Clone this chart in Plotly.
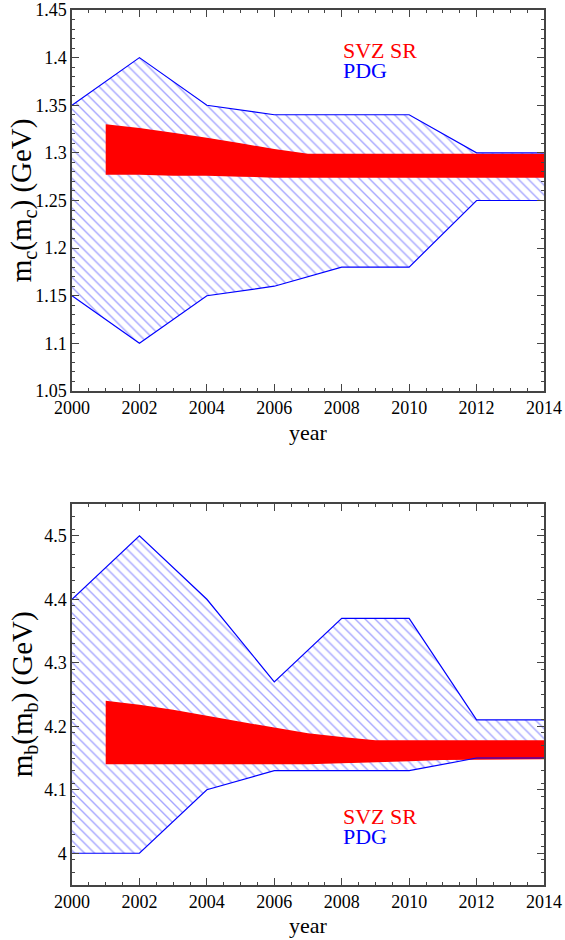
import plotly.graph_objects as go

# ---------------- data ----------------
pdg_years = [2000, 2002, 2004, 2006, 2008, 2010, 2012, 2014]
mc_pdg_hi = [1.35, 1.40, 1.35, 1.34, 1.34, 1.34, 1.30, 1.30]
mc_pdg_lo = [1.15, 1.10, 1.15, 1.16, 1.18, 1.18, 1.25, 1.25]
mb_pdg_hi = [4.40, 4.50, 4.40, 4.27, 4.37, 4.37, 4.21, 4.21]
mb_pdg_lo = [4.00, 4.00, 4.10, 4.13, 4.13, 4.13, 4.15, 4.15]

svz_years = [2001, 2002, 2003, 2004, 2005, 2006, 2007, 2008, 2009, 2010, 2011, 2012, 2013, 2014]
mc_svz_hi = [1.330, 1.326, 1.321, 1.316, 1.310, 1.304, 1.299, 1.299, 1.299, 1.299, 1.299, 1.299, 1.299, 1.299]
mc_svz_lo = [1.277, 1.277, 1.276, 1.276, 1.275, 1.274, 1.274, 1.274, 1.274, 1.274, 1.274, 1.274, 1.274, 1.274]
mb_svz_hi = [4.240, 4.234, 4.226, 4.216, 4.207, 4.198, 4.189, 4.183, 4.178, 4.178, 4.178, 4.178, 4.178, 4.178]
mb_svz_lo = [4.140, 4.140, 4.140, 4.140, 4.140, 4.140, 4.140, 4.141, 4.143, 4.145, 4.147, 4.148, 4.148, 4.148]

x_ticks = [2000, 2002, 2004, 2006, 2008, 2010, 2012, 2014]
x_ticktext = ["2000", "2002", "2004", "2006", "2008", "2010", "2012", "2014"]
mc_ticks = [1.05, 1.10, 1.15, 1.20, 1.25, 1.30, 1.35, 1.40, 1.45]
mc_ticktext = ["1.05", "1.1", "1.15", "1.2", "1.25", "1.3", "1.35", "1.4", "1.45"]
mb_ticks = [4.0, 4.1, 4.2, 4.3, 4.4, 4.5]
mb_ticktext = ["4", "4.1", "4.2", "4.3", "4.4", "4.5"]

# ---------------- styling ----------------
FONT = "'Liberation Serif', 'Times New Roman', Times, serif"
BLUE = "#0000ff"
RED = "#ff0000"
HATCH = "rgba(30,30,255,0.8)"
AXC = "#444444"

fig = go.Figure()


def add_panel(xa, ya, hi, lo, shi, slo):
    # PDG hatched band
    fig.add_trace(go.Scatter(
        x=pdg_years + pdg_years[::-1], y=hi + lo[::-1],
        xaxis=xa, yaxis=ya, mode="lines", line=dict(width=0),
        fill="toself", fillcolor="rgba(0,0,0,0)",
        fillpattern=dict(shape="\\", size=7, solidity=0.2,
                         fgcolor=HATCH, bgcolor="rgba(255,255,255,0)"),
        hoverinfo="skip", showlegend=False))
    # SVZ SR solid band
    fig.add_trace(go.Scatter(
        x=svz_years + svz_years[::-1], y=shi + slo[::-1],
        xaxis=xa, yaxis=ya, mode="lines", line=dict(width=0, color=RED),
        fill="toself", fillcolor=RED, hoverinfo="skip", showlegend=False))
    # PDG outlines
    for arr in (hi, lo):
        fig.add_trace(go.Scatter(
            x=pdg_years, y=arr, xaxis=xa, yaxis=ya, mode="lines",
            line=dict(color=BLUE, width=1.2), hoverinfo="skip", showlegend=False))


add_panel("x", "y", mc_pdg_hi, mc_pdg_lo, mc_svz_hi, mc_svz_lo)
add_panel("x2", "y2", mb_pdg_hi, mb_pdg_lo, mb_svz_hi, mb_svz_lo)

common_axis = dict(
    showgrid=False, zeroline=False, showline=True, linecolor=AXC, linewidth=1.5,
    mirror="allticks", ticks="inside", ticklen=7, tickwidth=1, tickcolor=AXC,
    ticklabeloverflow="allow", automargin=False,
    tickfont=dict(family=FONT, size=18, color="black"),
)

top_dom = [0.5646, 1.0]
bot_dom = [0.0, 0.4354]

fig.update_layout(
    width=565, height=940,
    margin=dict(l=72, r=21, t=10, b=55),
    paper_bgcolor="white", plot_bgcolor="white",
    font=dict(family=FONT, color="black"),
    xaxis=dict(common_axis, domain=[0, 1], anchor="y", range=[2000, 2014],
               tickvals=x_ticks, ticktext=x_ticktext,
               minor=dict(dtick=0.5, tick0=2000, ticks="inside", ticklen=3.5, tickcolor=AXC)),
    yaxis=dict(common_axis, domain=top_dom, anchor="x", range=[1.05, 1.45],
               tickvals=mc_ticks, ticktext=mc_ticktext,
               minor=dict(dtick=0.01, tick0=1.05, ticks="inside", ticklen=3.5, tickcolor=AXC)),
    xaxis2=dict(common_axis, domain=[0, 1], anchor="y2", range=[2000, 2014],
                tickvals=x_ticks, ticktext=x_ticktext,
                minor=dict(dtick=0.5, tick0=2000, ticks="inside", ticklen=3.5, tickcolor=AXC)),
    yaxis2=dict(common_axis, domain=bot_dom, anchor="x2", range=[3.95, 4.55],
                tickvals=mb_ticks, ticktext=mb_ticktext,
                minor=dict(dtick=0.02, tick0=3.95, ticks="inside", ticklen=3.5, tickcolor=AXC)),
)

ann = []
# axis titles
ann.append(dict(text="year", xref="x domain", yref="y domain", x=0.5, y=-0.108,
                xanchor="center", yanchor="middle", showarrow=False,
                font=dict(family=FONT, size=22, color="black")))
ann.append(dict(text="year", xref="x2 domain", yref="y2 domain", x=0.5, y=-0.105,
                xanchor="center", yanchor="middle", showarrow=False,
                font=dict(family=FONT, size=22, color="black")))
ann.append(dict(text="m<sub>c</sub>(m<sub>c</sub>) (GeV)", xref="x domain", yref="y domain",
                x=-0.102, y=0.5, xanchor="center", yanchor="middle", textangle=-90,
                showarrow=False, font=dict(family=FONT, size=29, color="black")))
ann.append(dict(text="m<sub>b</sub>(m<sub>b</sub>) (GeV)", xref="x2 domain", yref="y2 domain",
                x=-0.102, y=0.5, xanchor="center", yanchor="middle", textangle=-90,
                showarrow=False, font=dict(family=FONT, size=29, color="black")))
# legend-like labels
for xr, yr, y1, y2 in (("x", "y", 1.408, 1.387), ("x2", "y2", 4.058, 4.027)):
    ann.append(dict(text="SVZ SR", xref=xr, yref=yr, x=2008.0, y=y1, xanchor="left",
                    yanchor="middle", showarrow=False, height=17, borderpad=0,
                    font=dict(family=FONT, size=22, color=RED)))
    ann.append(dict(text="PDG", xref=xr, yref=yr, x=2008.0, y=y2, xanchor="left",
                    yanchor="middle", showarrow=False, height=17, borderpad=0,
                    font=dict(family=FONT, size=22, color=BLUE)))
fig.update_layout(annotations=ann)

# remove the default page margin so the figure fills the window exactly
fig.write_html("out.html",
               config={"displayModeBar": False},
               post_script="document.body.style.margin='0';"
                           "document.body.style.overflow='hidden';")
